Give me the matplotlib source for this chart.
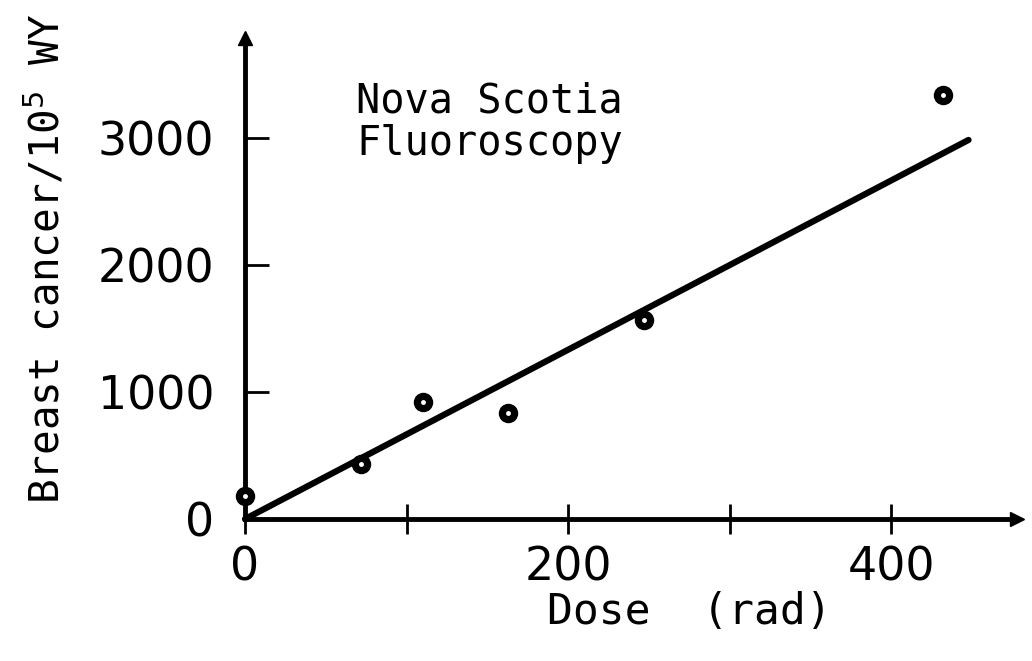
import matplotlib.pyplot as plt

# data
dose = [0, 72, 110, 163, 247, 432]
rate = [180, 430, 920, 835, 1565, 3340]

# fitted straight line through the origin
fit_x = [0, 448]
fit_y = [0, 2985]

xticks_major = [0, 200, 400]
xticks_minor = [100, 300]
yticks = [0, 1000, 2000, 3000]

mono = 'DejaVu Sans Mono'

fig = plt.figure(figsize=(10.32, 6.61), dpi=100)
ax = fig.add_axes([0, 0, 1, 1])
ax.set_xlim(-151.7, 487.3)
ax.set_ylim(-1118, 4087)

for s in ['top', 'right']:
    ax.spines[s].set_visible(False)
ax.spines['left'].set_position(('data', 0))
ax.spines['bottom'].set_position(('data', 0))
ax.spines['left'].set_bounds(0, 3790)
ax.spines['bottom'].set_bounds(0, 478)
ax.spines['left'].set_linewidth(3.5)
ax.spines['bottom'].set_linewidth(3.5)

# arrow heads
ax.plot(0, 3790, '^', color='black', ms=10, clip_on=False)
ax.plot(478, 0, '>', color='black', ms=10, clip_on=False)

ax.set_xticks(xticks_major)
ax.set_xticks(xticks_minor, minor=True)
ax.set_yticks(yticks)
ax.tick_params(axis='x', which='both', direction='inout', length=22, width=2,
               labelsize=33, pad=8)
ax.tick_params(axis='y', direction='in', length=17, width=2,
               labelsize=33, pad=22)

ax.plot(fit_x, fit_y, color='black', lw=4.5, solid_capstyle='round')
ax.plot(dose, rate, 'o', color='black', ms=13, zorder=5)
ax.plot(dose, rate, 'o', color='white', ms=2.5, zorder=6)

ax.text(69, 3120, 'Nova Scotia\nFluoroscopy', fontsize=29, family=mono,
        ha='left', va='center', linespacing=1.1)
ax.text(-123, 2050, 'Breast cancer/10$^5$ WY', rotation=90, fontsize=29.5,
        family=mono, ha='center', va='center')
ax.text(275, -730, 'Dose  (rad)', fontsize=31, family=mono,
        ha='center', va='center')

fig.savefig('out.png', dpi=100)
